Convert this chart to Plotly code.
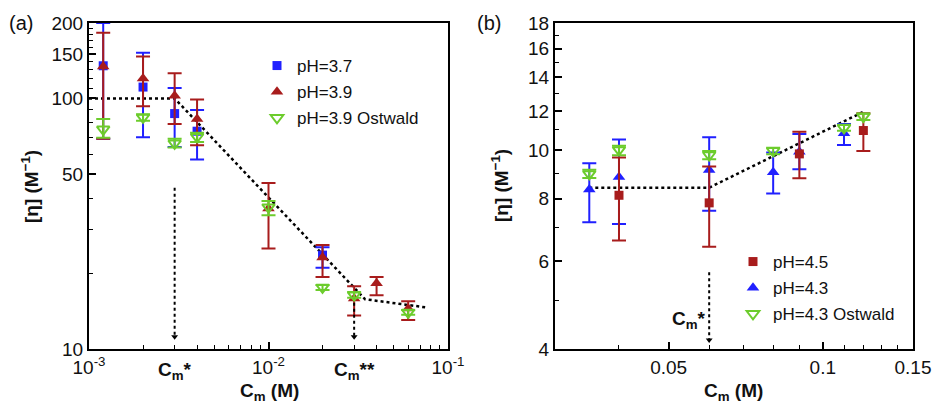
import plotly.graph_objects as go
import numpy as np

FONT = "Liberation Sans, Arial, sans-serif"

# ---------------- Panel (a) data ----------------
a_blue_x = [0.0012, 0.002, 0.003, 0.004, 0.02]
a_blue_y = [135, 111, 87, 74, 23.7]
a_blue_hi = [200, 152, 110, 90, 25.5]
a_blue_lo = [69, 70, 64, 57, 21.1]

a_red_x = [0.0012, 0.002, 0.003, 0.004, 0.01, 0.02, 0.03, 0.04, 0.06]
a_red_y = [134, 120, 102.5, 82.7, 36.4, 23.2, 15.9, 18.3, 14.5]
a_red_hi = [183, 147, 126, 99, 46, 26, 17.8, 19.4, 15.5]
a_red_lo = [69, 93, 79, 65, 25.2, 19.4, 13.6, 16.4, 13.05]

a_grn_x = [0.0012, 0.002, 0.003, 0.004, 0.01, 0.02, 0.03, 0.06]
a_grn_y = [75.3, 84, 66.2, 70.3, 36.8, 17.6, 16.4, 14.0]
a_grn_hi = [82.7, 86.5, 69, 73, 39.0, 18.0, 16.9, 14.3]
a_grn_lo = [69.7, 81.5, 63.7, 67, 34.2, 17.2, 16.0, 13.7]

a_fit_x = [0.001, 0.003, 0.0345, 0.075]
a_fit_y = [100, 100, 15.8, 14.66]

a_arrow1_x = [0.003, 0.003]
a_arrow1_y = [44, 11.2]
a_arrow2_x = [0.03, 0.03]
a_arrow2_y = [15.3, 11.2]

# ---------------- Panel (b) data ----------------
b_red_x = [0.04, 0.06, 0.09, 0.12]
b_red_y = [8.13, 7.85, 9.84, 10.96]
b_red_hi = [9.68, 9.28, 10.9, 11.87]
b_red_lo = [6.6, 6.41, 8.79, 9.97]

b_blue_x = [0.035, 0.04, 0.06, 0.08, 0.09, 0.11]
b_blue_y = [8.35, 8.84, 9.14, 9.04, 9.94, 10.82]
b_blue_hi = [9.42, 10.52, 10.62, 9.9, 10.78, 11.3]
b_blue_lo = [7.18, 7.12, 7.57, 8.2, 9.17, 10.25]

b_grn_x = [0.035, 0.04, 0.06, 0.08, 0.11, 0.12]
b_grn_y = [8.97, 10.02, 9.79, 9.98, 11.1, 11.69]
b_grn_hi = [9.15, 10.22, 9.97, 10.12, 11.25, 11.85]
b_grn_lo = [8.8, 9.78, 9.6, 9.82, 10.95, 11.5]

b_fit_x = [0.035, 0.06, 0.12]
b_fit_y = [8.42, 8.42, 11.95]

b_arrow_x = [0.06, 0.06]
b_arrow_y = [5.7, 4.17]

# tick labels
a_xtickvals = [0.001, 0.01, 0.1]
a_xticktext = ["10<sup>-3</sup>", "10<sup>-2</sup>", "10<sup>-1</sup>"]
a_ytickvals = [10, 50, 100, 150, 200]
b_xtickvals = [0.05, 0.1, 0.15]
b_xticktext = ["0.05", "0.1", "0.15"]
b_ytickvals = [4, 6, 8, 10, 12, 14, 16, 18]

BLUE = "#2020ff"
RED = "#a81c1c"
GREEN = "#6ccc2c"

W, H = 933, 405


def px(x):
    return x / W


def py(y):
    return 1 - y / H


def err(y, hi, lo):
    return dict(type="data", symmetric=False,
                array=[h - v for h, v in zip(hi, y)],
                arrayminus=[v - l for v, l in zip(y, lo)])


fig = go.Figure()


def add_series(x, y, hi, lo, color, symbol, size, name, xa, ya, legend, rank, open_=False):
    e = err(y, hi, lo)
    e.update(color=color, thickness=2, width=7)
    marker = dict(symbol=symbol, size=size, color=color)
    if open_:
        marker.update(line=dict(color=color, width=2))
    fig.add_trace(go.Scatter(x=x, y=y, mode="markers", name=name, marker=marker,
                             error_y=e, xaxis=xa, yaxis=ya, legend=legend,
                             legendrank=rank, legendgroup=name))


# dotted fits
fig.add_trace(go.Scatter(x=a_fit_x, y=a_fit_y, mode="lines", showlegend=False,
                         line=dict(color="black", width=2.5, dash="dot"), xaxis="x", yaxis="y"))
fig.add_trace(go.Scatter(x=b_fit_x, y=b_fit_y, mode="lines", showlegend=False,
                         line=dict(color="black", width=2.5, dash="dot"), xaxis="x2", yaxis="y2"))

# panel (a)
add_series(a_blue_x, a_blue_y, a_blue_hi, a_blue_lo, BLUE, "square", 9, "pH=3.7", "x", "y", "legend", 1)
add_series(a_red_x, a_red_y, a_red_hi, a_red_lo, RED, "triangle-up", 11, "pH=3.9", "x", "y", "legend", 2)
add_series(a_grn_x, a_grn_y, a_grn_hi, a_grn_lo, GREEN, "triangle-down-open", 11,
           "pH=3.9 Ostwald", "x", "y", "legend", 3, open_=True)

# panel (b)
add_series(b_blue_x, b_blue_y, b_blue_hi, b_blue_lo, BLUE, "triangle-up", 11, "pH=4.3", "x2", "y2", "legend2", 2)
add_series(b_red_x, b_red_y, b_red_hi, b_red_lo, RED, "square", 9, "pH=4.5", "x2", "y2", "legend2", 1)
add_series(b_grn_x, b_grn_y, b_grn_hi, b_grn_lo, GREEN, "triangle-down-open", 11,
           "pH=4.3 Ostwald", "x2", "y2", "legend2", 3, open_=True)

# arrows
for ax_, ay_, xa, ya in [(a_arrow1_x, a_arrow1_y, "x", "y"), (a_arrow2_x, a_arrow2_y, "x", "y"),
                         (b_arrow_x, b_arrow_y, "x2", "y2")]:
    fig.add_trace(go.Scatter(x=ax_, y=ay_, mode="lines", showlegend=False,
                             line=dict(color="black", width=2, dash="dot"), xaxis=xa, yaxis=ya))
    fig.add_trace(go.Scatter(x=[ax_[1]], y=[ay_[1]], mode="markers", showlegend=False,
                             marker=dict(symbol="triangle-down", size=6, color="black"),
                             xaxis=xa, yaxis=ya))

axis_common = dict(showline=True, linecolor="black", linewidth=2, mirror=True,
                   ticks="inside", ticklen=7, tickwidth=1.5, tickcolor="black",
                   showgrid=False, zeroline=False, automargin=False,
                   tickfont=dict(family=FONT, size=19, color="#111"))
minor_common = dict(tickmode="array", ticks="inside", ticklen=4, tickwidth=1, tickcolor="black")

fig.update_layout(
    width=W, height=H, margin=dict(l=0, r=0, t=0, b=0, autoexpand=False),
    paper_bgcolor="white", plot_bgcolor="white",
    xaxis=dict(type="log", domain=[px(89), px(448)], range=[-3, -1], anchor="y",
               tickmode="array", tickvals=a_xtickvals, ticktext=a_xticktext,
               minor=dict(tickvals=[k * 1e-3 for k in range(2, 10)] + [k * 1e-2 for k in range(2, 10)],
                          **minor_common),
               **axis_common),
    yaxis=dict(type="log", domain=[py(349), py(23)], range=[1, np.log10(200)], anchor="x",
               tickmode="array", tickvals=a_ytickvals, ticktext=[str(v) for v in a_ytickvals],
               minor=dict(tickvals=[20, 30, 40, 60, 70, 80, 90, 110, 120, 130, 140, 160, 170, 180, 190],
                          **minor_common),
               **axis_common),
    xaxis2=dict(type="log", domain=[px(555), px(913)], range=[np.log10(0.03), np.log10(0.15)],
                anchor="y2", tickmode="array", tickvals=b_xtickvals, ticktext=b_xticktext,
                minor=dict(tickvals=[0.04, 0.06, 0.07, 0.08, 0.09, 0.11, 0.12, 0.13, 0.14],
                           **minor_common),
                **axis_common),
    yaxis2=dict(type="log", domain=[py(349), py(23)], range=[np.log10(4), np.log10(18)], anchor="x2",
                tickmode="array", tickvals=b_ytickvals, ticktext=[str(v) for v in b_ytickvals],
                minor=dict(tickvals=[5, 7, 9, 11, 13, 15, 17], **minor_common),
                **axis_common),
    legend=dict(x=px(257), y=py(48), xanchor="left", yanchor="top",
                bgcolor="rgba(0,0,0,0)", font=dict(family=FONT, size=17, color="#111"),
                traceorder="grouped", tracegroupgap=1, itemwidth=30),
    legend2=dict(x=px(733), y=py(244), xanchor="left", yanchor="top",
                 bgcolor="rgba(0,0,0,0)", font=dict(family=FONT, size=17, color="#111"),
                 traceorder="grouped", tracegroupgap=1, itemwidth=30),
    showlegend=True,
)

ann = []
bold = dict(family=FONT, size=19, color="#111")
base = dict(showarrow=False, xanchor="center", yanchor="middle")
# panel labels
ann.append(dict(text="(a)", x=px(21), y=py(23), xref="paper", yref="paper",
                font=dict(family=FONT, size=20, color="#111"), **base))
ann.append(dict(text="(b)", x=px(489), y=py(23), xref="paper", yref="paper",
                font=dict(family=FONT, size=20, color="#111"), **base))
# axis titles
ytitle = "<b>[η] (M<sup>−1</sup>)</b>"
ann.append(dict(text=ytitle, x=px(30), y=py(186), xref="paper", yref="paper",
                textangle=-90, font=bold, **base))
ann.append(dict(text=ytitle, x=px(500), y=py(186), xref="paper", yref="paper",
                textangle=-90, font=bold, **base))
xtitle = "<b>C<sub>m</sub> (M)</b>"
ann.append(dict(text=xtitle, x=px(269), y=py(392), xref="paper", yref="paper",
                font=bold, **base))
ann.append(dict(text=xtitle, x=px(733), y=py(392), xref="paper", yref="paper",
                font=bold, **base))
# C_m markers
ann.append(dict(text="<b>C<sub>m</sub>*</b>", x=np.log10(0.003), y=py(371), xref="x", yref="paper",
                font=bold, **base))
ann.append(dict(text="<b>C<sub>m</sub>**</b>", x=np.log10(0.03), y=py(371), xref="x", yref="paper",
                font=bold, **base))
ann.append(dict(text="<b>C<sub>m</sub>*</b>", x=np.log10(0.06), y=np.log10(4.57), xref="x2", yref="y2",
                showarrow=False, xanchor="right", yanchor="middle", font=bold, xshift=-1))
fig.update_layout(annotations=ann)

fig.write_html("out.html", config={"displayModeBar": False},
               post_script="document.body.style.margin='0px';document.body.style.overflow='hidden';")
